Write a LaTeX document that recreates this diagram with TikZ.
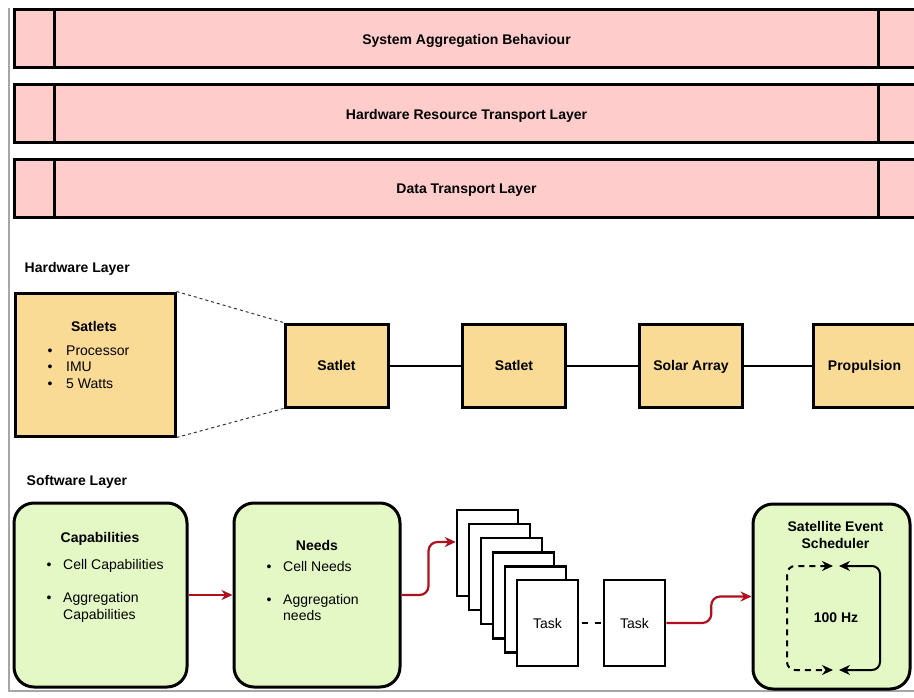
\documentclass[tikz,border=0pt]{standalone}
\usepackage{fontspec}
\setmainfont{Liberation Sans}
\usepackage{tikz}
\usetikzlibrary{arrows.meta,calc}
\definecolor{bandpink}{HTML}{FFCCCC}
\definecolor{hwyellow}{HTML}{FADB96}
\definecolor{swgreen}{HTML}{E4F8C6}
\definecolor{flowred}{HTML}{B0101E}

\begin{document}
\begin{tikzpicture}[x=1pt,y=-1pt,
  every node/.style={font=\fontsize{14pt}{16.5pt}\selectfont},
  title/.style={font=\fontsize{14pt}{16.5pt}\selectfont\bfseries,text depth=0pt},
  band/.style={draw,line width=3pt,fill=bandpink,minimum width=905pt,minimum height=58pt,title},
  hwbox/.style={draw,line width=3pt,fill=hwyellow,minimum width=103pt,minimum height=83pt,title},
  swbox/.style={draw,line width=3pt,fill=swgreen,rounded corners=20pt},
  task/.style={draw,line width=2.5pt,fill=white,minimum width=61pt,minimum height=86pt,text depth=0pt},
  flow/.style={draw=flowred,line width=2.2pt,-{Stealth[length=11pt,width=10pt]},rounded corners=9pt},
  loop/.style={line width=2pt,{Stealth[length=11pt,width=10pt]}-{Stealth[length=11pt,width=10pt]},rounded corners=8pt},
  ]
\useasboundingbox (0,0) rectangle (914,698);
% frame
\draw[gray!70,line width=1.2pt] (9,8) -- (9,691) -- (914,691);

% transport layers
\node[band] (sab) at (466.5,39) {System Aggregation Behaviour};
\node[band] (hrt) at (466.5,114) {Hardware Resource Transport Layer};
\node[band] (dtl) at (466.5,189) {Data Transport Layer};
\foreach \b in {sab,hrt,dtl} {
  \draw[line width=3pt] ([xshift=42pt]\b.north west) -- ([xshift=42pt]\b.south west);
  \draw[line width=3pt] ([xshift=-42pt]\b.north east) -- ([xshift=-42pt]\b.south east);
}

% hardware layer
\node[title,anchor=west,inner sep=0pt] (hwlabel) at (24.5,267) {Hardware Layer};
\node[hwbox,minimum width=160pt,minimum height=143pt] (satlets) at (95,364.5) {};
\node[title] (satletstitle) at (94,326) {Satlets};
\node[anchor=west,inner sep=0pt] (satletslist) at (47.5,368.5) {%
  \begin{tabular}{@{}l@{\hspace{13.6pt}}l@{}}
  \textbullet & Processor\\
  \textbullet & IMU\\
  \textbullet & 5 Watts
  \end{tabular}};
\node[hwbox] (s1) at (336.5,365.5) {Satlet};
\node[hwbox] (s2) at (514,365.5) {Satlet};
\node[hwbox] (solar) at (691,365.5) {Solar Array};
\node[hwbox] (prop) at (864.5,365.5) {Propulsion};
\draw[line width=2pt] (s1) -- (s2);
\draw[line width=2pt] (s2) -- (solar);
\draw[line width=2pt] (solar) -- (prop);
\draw[black!80,line width=1pt,dash pattern=on 3pt off 3pt] (satlets.north east) -- (s1.north west);
\draw[black!80,line width=1pt,dash pattern=on 3pt off 3pt] (satlets.south east) -- (s1.south west);

% software layer
\node[title,anchor=west,inner sep=0pt] (swlabel) at (26.5,480) {Software Layer};
\node[swbox,minimum width=173pt,minimum height=184pt] (cap) at (100.5,595) {};
\node[title] (captitle) at (100,537) {Capabilities};
\node[anchor=west,inner sep=0pt] (caplist) at (46.5,591) {%
  \begin{tabular}{@{}l@{\hspace{11.6pt}}l@{}}
  \textbullet & Cell Capabilities\\[16.5pt]
  \textbullet & Aggregation\\
              & Capabilities
  \end{tabular}};
\node[swbox,minimum width=166pt,minimum height=184pt] (needs) at (317,595) {};
\node[title] (needstitle) at (317,545) {Needs};
\node[anchor=west,inner sep=0pt] (needslist) at (266.5,592.5) {%
  \begin{tabular}{@{}l@{\hspace{11.6pt}}l@{}}
  \textbullet & Cell Needs\\[16.5pt]
  \textbullet & Aggregation\\
              & needs
  \end{tabular}};
\draw[flow] (cap) -- (needs);

% tasks
\foreach \i in {1,...,5}
  \node[task] (t\i) at ({487.5+12*(\i-1)},{553+14.1*(\i-1)}) {};
\node[task] (t6) at (547.5,623) {Task};
\node[task] (task2) at (634.5,623) {Task};
\draw[line width=2pt,dash pattern=on 6pt off 6.5pt,dash phase=9.5pt] (t6) -- (task2);
\draw[flow] (needs.east) -- ++(27,0) |- ([yshift=11pt]t1.west);

% scheduler
\node[swbox,minimum width=157pt,minimum height=185pt] (sched) at (831.5,596.5) {};
\node[title,align=center] (schedtitle) at (835.5,535) {Satellite Event\\Scheduler};
\node[title] (hz) at (836,618) {100 Hz};
\draw[flow] (task2.east) -- ++(45,0) |- (sched.west);
\coordinate (dtop) at (833,566);
\coordinate (dbot) at (833,670);
\coordinate (stop) at (839,566);
\coordinate (sbot) at (839,670);
\draw[loop,dash pattern=on 6pt off 5pt] (dtop) -- (787,566) -- (787,670) -- (dbot);
\draw[loop] (stop) -- (880,566) -- (880,670) -- (sbot);
\end{tikzpicture}
\end{document}
